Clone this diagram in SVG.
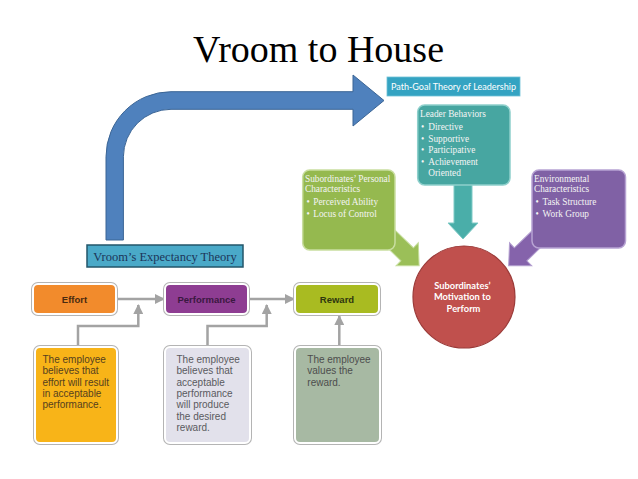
<svg xmlns="http://www.w3.org/2000/svg" width="638" height="479" viewBox="0 0 638 479">
<defs>
<style>
.serif{font-family:"Liberation Serif","Times New Roman",serif}
.sans{font-family:"Liberation Sans",Arial,sans-serif}
.lato{font-family:Lato,"Liberation Sans",sans-serif}
.rt{font-family:"Liberation Serif",serif;font-size:9.3px;fill:#f4f4f4}
.lbl{font-family:"Liberation Sans",Arial,sans-serif;font-size:9.5px;font-weight:bold;text-anchor:middle}
.note{font-family:"Liberation Sans",Arial,sans-serif;font-size:10px}
.gl{stroke:#a3a3a3;stroke-width:2.5;fill:none}
.halo{fill:#b4b4b4}
</style>
<marker id="ah" viewBox="0 0 10 10" refX="9" refY="5" markerWidth="4" markerHeight="4" orient="auto" markerUnits="strokeWidth">
<path d="M0,0 L10,5 L0,10 z" fill="#a3a3a3"/>
</marker>
</defs>
<rect width="638" height="479" fill="#ffffff"/>

<g id="title">
<text class="serif" x="318.5" y="62" font-size="38" text-anchor="middle" fill="#000">Vroom to House</text>
</g>

<g id="connectors">
<!-- big bent blue arrow -->
<path d="M106,240 L106,156.7 A65,65 0 0 1 171,91.7 L353,91.7 L353,75 L384,100.5 L353,126 L353,109.3 L171,109.3 A47.6,47.6 0 0 0 123.4,156.7 L123.4,240 Z" fill="#4f81bd" stroke="#3b6595" stroke-width="1"/>
<!-- teal down arrow -->
<path d="M454,180 L472,180 L472,223 L478,223 L463,239 L448,223 L454,223 Z" fill="#4aaea9" stroke="#7fcac6" stroke-width="1"/>
<!-- green arrow -->
<path d="M0,-9 L35,-9 L35,-16 L51.6,0 L35,16 L35,9 L0,9 Z" transform="translate(382,230) rotate(44)" fill="#9bbf58" stroke="#c5dd9c" stroke-width="1"/>
<!-- purple arrow -->
<path d="M0,-9 L35,-9 L35,-16 L51.6,0 L35,16 L35,9 L0,9 Z" transform="translate(545.8,230) rotate(136)" fill="#8563ab" stroke="#b39fd0" stroke-width="1"/>
<!-- lower chart gray arrows -->
<line class="gl" x1="117" y1="299" x2="164" y2="299" marker-end="url(#ah)"/>
<line class="gl" x1="249" y1="299" x2="294" y2="299" marker-end="url(#ah)"/>
<path class="gl" d="M78,345 L78,326 L138.3,326 L138.3,305" marker-end="url(#ah)"/>
<path class="gl" d="M207.5,345 L207.5,326 L266.7,326 L266.7,305" marker-end="url(#ah)"/>
<line class="gl" x1="339.3" y1="345" x2="339.3" y2="316" marker-end="url(#ah)"/>
</g>

<g id="vroom-label">
<rect x="87" y="245" width="156" height="22" fill="#4aa9c8" stroke="#23566a" stroke-width="1.5"/>
<text class="serif" x="165" y="261" font-size="12.5" text-anchor="middle" fill="#1c3558">Vroom’s Expectancy Theory</text>
</g>

<g id="pathgoal-label">
<rect x="387" y="77" width="133" height="19" fill="#34a3c2" stroke="#6fc0d6" stroke-width="0.8"/>
<text class="lato" x="391" y="90.3" font-size="9.5" textLength="125" lengthAdjust="spacingAndGlyphs" fill="#ffffff">Path-Goal Theory of Leadership</text>
</g>

<g id="leader-behaviors">
<rect x="417.7" y="105" width="92.3" height="80" rx="7" fill="#47a6a1" stroke="#8fd0cc" stroke-width="1.5"/>
<text class="rt" x="420" y="116.5">Leader Behaviors</text>
<text class="rt" x="421" y="130">•</text><text class="rt" x="428.3" y="130">Directive</text>
<text class="rt" x="421" y="141.7">•</text><text class="rt" x="428.3" y="141.7">Supportive</text>
<text class="rt" x="421" y="153.3">•</text><text class="rt" x="428.3" y="153.3">Participative</text>
<text class="rt" x="421" y="165">•</text><text class="rt" x="428.3" y="165">Achievement</text>
<text class="rt" x="428.3" y="176">Oriented</text>
</g>

<g id="personal-characteristics">
<rect x="302.7" y="170" width="92.3" height="80" rx="7" fill="#95b94f" stroke="#c9dea0" stroke-width="1.5"/>
<text class="rt" x="305" y="181.7">Subordinates’ Personal</text>
<text class="rt" x="305" y="191.5">Characteristics</text>
<text class="rt" x="306.5" y="205">•</text><text class="rt" x="313.3" y="205">Perceived Ability</text>
<text class="rt" x="306.5" y="216.7">•</text><text class="rt" x="313.3" y="216.7">Locus of Control</text>
</g>

<g id="environmental-characteristics">
<rect x="532" y="170" width="93.5" height="78" rx="7" fill="#8061a5" stroke="#b7a3d3" stroke-width="1.5"/>
<text class="rt" x="534" y="181.7">Environmental</text>
<text class="rt" x="534" y="191.5">Characteristics</text>
<text class="rt" x="535.5" y="204.5">•</text><text class="rt" x="542.5" y="204.5">Task Structure</text>
<text class="rt" x="535.5" y="216.7">•</text><text class="rt" x="542.5" y="216.7">Work Group</text>
</g>

<g id="motivation">
<circle cx="464" cy="297" r="51" fill="#c0504d" stroke="#9b3a38" stroke-width="1.2"/>
<text class="lato" font-size="9.3" font-weight="bold" fill="#ffffff" text-anchor="middle">
<tspan x="463.5" y="288.5">Subordinates’</tspan>
<tspan x="463.5" y="300">Motivation to</tspan>
<tspan x="463.5" y="311.5">Perform</tspan>
</text>
</g>

<g id="effort">
<rect class="halo" x="31" y="282" width="87" height="34" rx="7"/>
<rect x="33" y="284" width="83" height="30" rx="5" fill="#f28b2c" stroke="#ffffff" stroke-width="2"/>
<text class="lbl" x="74.5" y="302.5" fill="#4a2a10">Effort</text>
</g>

<g id="performance">
<rect class="halo" x="163" y="282" width="87" height="34" rx="7"/>
<rect x="165" y="284" width="83" height="30" rx="5" fill="#8e3d92" stroke="#ffffff" stroke-width="2"/>
<text class="lbl" x="206.5" y="302.5" fill="#3a1840">Performance</text>
</g>

<g id="reward">
<rect class="halo" x="293" y="282" width="88" height="34" rx="7"/>
<rect x="295" y="284" width="84" height="30" rx="5" fill="#a9bb21" stroke="#ffffff" stroke-width="2"/>
<text class="lbl" x="337" y="302.5" fill="#2e3610">Reward</text>
</g>

<g id="effort-note">
<rect class="halo" x="33" y="345" width="86" height="100" rx="7"/>
<rect x="35" y="347" width="82" height="96" rx="5" fill="#f8b418" stroke="#ffffff" stroke-width="2"/>
<text class="note" fill="#55401f">
<tspan x="42.5" y="363">The employee</tspan>
<tspan x="42.5" y="374.3">believes that</tspan>
<tspan x="42.5" y="385.6">effort will result</tspan>
<tspan x="42.5" y="396.9">in acceptable</tspan>
<tspan x="42.5" y="408.2">performance.</tspan>
</text>
</g>

<g id="performance-note">
<rect class="halo" x="163" y="345" width="89" height="100" rx="7"/>
<rect x="165" y="347" width="85" height="96" rx="5" fill="#e2e1eb" stroke="#ffffff" stroke-width="2"/>
<text class="note" fill="#5a5a5e">
<tspan x="176.5" y="363">The employee</tspan>
<tspan x="176.5" y="374.3">believes that</tspan>
<tspan x="176.5" y="385.6">acceptable</tspan>
<tspan x="176.5" y="396.9">performance</tspan>
<tspan x="176.5" y="408.2">will produce</tspan>
<tspan x="176.5" y="419.5">the desired</tspan>
<tspan x="176.5" y="430.8">reward.</tspan>
</text>
</g>

<g id="reward-note">
<rect class="halo" x="293" y="345" width="89" height="100" rx="7"/>
<rect x="295" y="347" width="85" height="96" rx="5" fill="#a7b9a3" stroke="#ffffff" stroke-width="2"/>
<text class="note" fill="#4d4d4d">
<tspan x="307.3" y="363">The employee</tspan>
<tspan x="307.3" y="374.3">values the</tspan>
<tspan x="307.3" y="385.6">reward.</tspan>
</text>
</g>
</svg>
